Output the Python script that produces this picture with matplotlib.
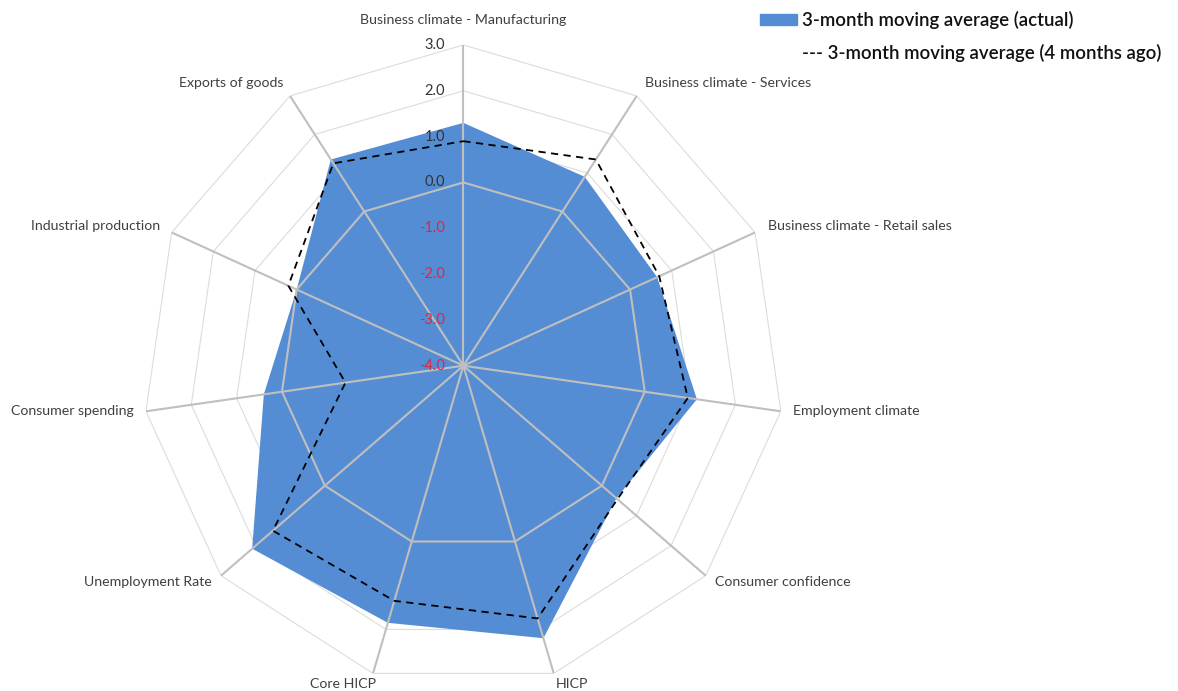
import numpy as np
import matplotlib.pyplot as plt
from matplotlib.patches import Rectangle

plt.rcParams['font.family'] = ['Lato', 'DejaVu Sans']

categories = ["Business climate - Manufacturing", "Business climate - Services",
              "Business climate - Retail sales", "Employment climate",
              "Consumer confidence", "HICP", "Core HICP", "Unemployment Rate",
              "Consumer spending", "Industrial production", "Exports of goods"]
actual = [1.3, 0.9, 0.65, 1.15, 0.42, 2.2, 1.85, 2.1, 0.4, 0.0, 1.35]
months_ago = [0.9, 1.35, 0.7, 0.95, 0.45, 1.75, 1.35, 1.5, -1.4, 0.2, 1.25]
ring_values = [-4, -3, -2, -1, 0, 1, 2, 3]

# label offsets in points from the outer vertex, with alignment
label_pos = [((0, 18), 'center'), ((6, 9), 'left'), ((9, 5), 'left'), ((9, 0), 'left'),
             ((7, -4.5), 'left'), ((13, -8), 'center'), ((-21.5, -8), 'center'),
             ((-6.5, -4.5), 'right'), ((-8.5, 0), 'right'), ((-8.5, 5), 'right'),
             ((-5, 9), 'right')]

blue = '#558DD4'
spoke_col = '#BFBFBF'
grid_col = '#DCDCDC'
text_col = '#404040'
red = '#DC2840'

n = len(categories)
theta = np.arange(n) * 2 * np.pi / n
theta_c = np.append(theta, theta[0])

def closed(vals):
    return np.append(vals, vals[0])

fig = plt.figure(figsize=(11.78, 6.91), dpi=100)
ax = fig.add_axes([0.1211, 0.0067, 0.5445, 0.9282], projection='polar')
ax.set_theta_zero_location('N')
ax.set_theta_direction(-1)
ax.set_ylim(-4, 3)
ax.grid(False)
ax.set_xticks([])
ax.set_yticks([])
ax.spines['polar'].set_visible(False)
ax.patch.set_alpha(0)

# polygon grid rings
for v in ring_values[1:]:
    if v == 0:
        continue
    ax.plot(theta_c, [v] * (n + 1), color=grid_col, lw=0.8, zorder=1)

ax.fill(theta_c, closed(actual), color=blue, lw=0, zorder=2)

ax.plot(theta_c, [0] * (n + 1), color=spoke_col, lw=1.5, zorder=3)
for t in theta:
    ax.plot([t, t], [-4, 3], color=spoke_col, lw=1.5, zorder=3)
ax.plot([0], [-4], 'o', color=spoke_col, ms=4, zorder=3)

ax.plot(theta_c, closed(months_ago), color='black', lw=1.3, ls=(0, (4, 3)), zorder=4)

# radial tick labels
for v in ring_values:
    ax.annotate(f"{v:.1f}", xy=(0, v), xytext=(-13, 0), textcoords='offset points',
                ha='right', va='center', fontsize=10.5,
                color=red if v < 0 else '#333333', zorder=5)

for t, lab, (off, ha) in zip(theta, categories, label_pos):
    ax.annotate(lab, xy=(t, 3), xytext=off, textcoords='offset points',
                ha=ha, va='center', fontsize=10.2, color=text_col,
                annotation_clip=False)

# legend
fig.add_artist(Rectangle((760 / 1178, 1 - 25 / 691), 37 / 1178, 11 / 691,
                         transform=fig.transFigure, color=blue))
fig.text(802 / 1178, 1 - 20 / 691, "3-month moving average (actual)",
         ha='left', va='center', fontsize=13.4, fontweight='semibold', color='#111111')
fig.text(802 / 1178, 1 - 53 / 691, "--- 3-month moving average (4 months ago)",
         ha='left', va='center', fontsize=13.4, fontweight='semibold', color='#111111')

fig.savefig('out.png', dpi=100)
